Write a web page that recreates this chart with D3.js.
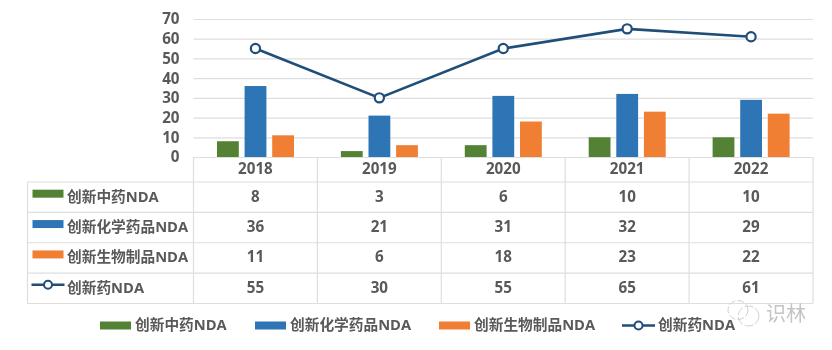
<!DOCTYPE html>
<html>
<head>
<meta charset="utf-8">
<script src="https://cdn.jsdelivr.net/npm/d3@7"></script>
<style>
    html, body {margin: 0; padding: 0; background: #fff;}
    svg {display: block; filter: blur(0.35px);}
    text {font-family: "Open Sans", "Noto Sans CJK SC", sans-serif; font-weight: 700; fill: #595959;}
</style>
</head>
<body>
<svg id="chart" width="832" height="350"></svg>
<script>
const years = ["2018", "2019", "2020", "2021", "2022"];
const yTicks = [0, 10, 20, 30, 40, 50, 60, 70];
const seriesNames = ["创新中药NDA", "创新化学药品NDA", "创新生物制品NDA", "创新药NDA"];
const seriesColors = ["#548235", "#2e75b6", "#f07f33", "#1f4e79"];
const tcmValues = [8, 3, 6, 10, 10];
const chemValues = [36, 21, 31, 32, 29];
const bioValues = [11, 6, 18, 23, 22];
const totalValues = [55, 30, 55, 65, 61];
const tableRows = [tcmValues, chemValues, bioValues, totalValues];
const barRows = tableRows.slice(0, 3);
const legendX = [100, 255, 439, 622];

const gridColor = "#dedede";
const labelSize = "15.2px";
const nameSize = "14.7px";
const svg = d3.select("#chart");

const x = d3.scaleBand().domain(years).range([193.5, 813]);
const y = d3.scaleLinear().domain([0, 70]).range([157, 19]);
const inner = d3.scaleBand().domain(d3.range(3)).range([23.5, 100.5]).paddingInner(0.21);
const rowY = d3.scaleBand().domain(d3.range(4)).range([182, 303.5]);

// gridlines + value labels
const yAxis = svg.append("g")
    .attr("transform", "translate(193.5,0)")
    .call(d3.axisLeft(y).tickValues(yTicks).tickSize(-619.5).tickPadding(14));
yAxis.select(".domain").remove();
yAxis.selectAll("line").attr("stroke", gridColor).attr("stroke-width", 1.2);
yAxis.selectAll("text")
    .style("font-size", labelSize);

// table lines
const table = svg.append("g").attr("stroke", gridColor).attr("stroke-width", 1.2);
rowY.domain().concat(4).forEach(i => {
    const yy = i === 4 ? rowY.range()[1] : rowY(i);
    table.append("line").attr("x1", 27.5).attr("x2", 813).attr("y1", yy).attr("y2", yy);
});
table.append("line").attr("x1", 27.5).attr("x2", 27.5).attr("y1", 182).attr("y2", 303.5);
years.concat("end").forEach(d => {
    const xx = d === "end" ? 813 : x(d);
    table.append("line").attr("x1", xx).attr("x2", xx).attr("y1", 157).attr("y2", 303.5);
});

// bars
barRows.forEach((values, s) => {
    svg.append("g").selectAll("rect")
        .data(values)
        .enter()
        .append("rect")
        .attr("x", (d, i) => x(years[i]) + inner(s))
        .attr("y", d => y(d))
        .attr("width", inner.bandwidth())
        .attr("height", d => y(0) - y(d))
        .attr("fill", seriesColors[s]);
});

// total line
const line = d3.line()
    .x((d, i) => x(years[i]) + x.bandwidth() / 2)
    .y(d => y(d));
svg.append("path")
    .attr("d", line(totalValues))
    .attr("fill", "none")
    .attr("stroke", seriesColors[3])
    .attr("stroke-width", 2.6);
svg.append("g").selectAll("circle")
    .data(totalValues)
    .enter()
    .append("circle")
    .attr("cx", (d, i) => x(years[i]) + x.bandwidth() / 2)
    .attr("cy", d => y(d))
    .attr("r", 4.6)
    .attr("fill", "#fff")
    .attr("stroke", seriesColors[3])
    .attr("stroke-width", 2.2);

// year headers
svg.append("g").selectAll("text")
    .data(years)
    .enter()
    .append("text")
    .attr("x", d => x(d) + x.bandwidth() / 2)
    .attr("y", 169)
    .attr("dy", "0.35em")
    .attr("text-anchor", "middle")
    .style("font-size", labelSize)
    .text(d => d);

// table values
tableRows.forEach((values, r) => {
    svg.append("g").selectAll("text")
        .data(values)
        .enter()
        .append("text")
        .attr("x", (d, i) => x(years[i]) + x.bandwidth() / 2)
        .attr("y", rowY(r) + rowY.bandwidth() / 2 - 0.8)
        .attr("dy", "0.35em")
        .attr("text-anchor", "middle")
        .style("font-size", labelSize)
        .text(d => d);
});

function drawKey(g, s, kx, ky) {
    if (s < 3) {
        g.append("rect").attr("x", kx).attr("y", ky - 4).attr("width", 31).attr("height", 8)
            .attr("fill", seriesColors[s]);
    } else {
        g.append("line").attr("x1", kx).attr("x2", kx + 33).attr("y1", ky).attr("y2", ky)
            .attr("stroke", seriesColors[3]).attr("stroke-width", 2.4);
        g.append("circle").attr("cx", kx + 16.5).attr("cy", ky).attr("r", 4)
            .attr("fill", "#fff").attr("stroke", seriesColors[3]).attr("stroke-width", 2);
    }
}

// row headers in the table
seriesNames.forEach((name, s) => {
    const g = svg.append("g");
    const cy = rowY(s) + rowY.bandwidth() / 2;
    drawKey(g, s, s < 3 ? 32.5 : 31.5, cy - 3.5);
    g.append("text").attr("x", 67).attr("y", cy - 0.8).attr("dy", "0.35em")
        .style("font-size", nameSize).text(name);
});

// bottom legend
seriesNames.forEach((name, s) => {
    const g = svg.append("g");
    drawKey(g, s, legendX[s], 325.5);
    g.append("text").attr("x", legendX[s] + (s < 3 ? 35 : 36)).attr("y", 325).attr("dy", "0.35em")
        .style("font-size", nameSize).text(name);
});

// watermark
const mark = svg.append("g").attr("fill", "none").attr("stroke", "#d0d0d0").attr("stroke-width", 1);
mark.append("ellipse").attr("cx", 738).attr("cy", 310).attr("rx", 10).attr("ry", 9.5).attr("stroke-dasharray", "7 2");
mark.append("ellipse").attr("cx", 748.5).attr("cy", 316).attr("rx", 10.5).attr("ry", 10).attr("stroke-dasharray", "9 2");
svg.append("text").attr("x", 766).attr("y", 314).attr("dy", "0.35em")
    .style("font-size", "20px").style("font-weight", 400).style("fill", "#c4c4c4").text("识林");
</script>
</body>
</html>
